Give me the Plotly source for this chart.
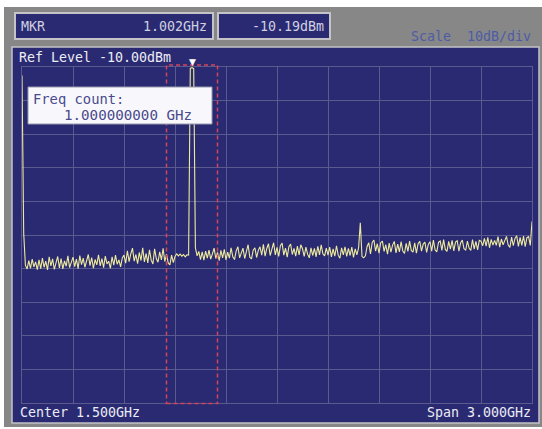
import plotly.graph_objects as go

START_GHZ = 0.0
STOP_GHZ = 3.0
REF_LEVEL_DBM = -10.0
DB_PER_DIV = 10.0
N_DIV = 10

header_labels = ["MKR", "1.002GHz", "-10.19dBm"]
scale_label = "Scale  10dB/div"
ref_label = "Ref Level -10.00dBm"
center_label = "Center 1.500GHz"
span_label = "Span 3.000GHz"
count_labels = ["Freq count:", "1.000000000 GHz"]

marker_freq_ghz = 1.002
window_ghz = [0.85, 1.15]

# trace amplitudes (dBm), 10 MHz sweep steps
lo_feedthrough = [-12.5, -59.5, -69.0]
noise_a = [-70.1, -67.6, -69.9, -67.2, -69.5, -68.0, -70.3]
noise_b = [-67.4, -70.0, -66.9, -69.6, -67.8, -70.4, -66.5, -69.2, -67.1, -70.2,
           -68.3, -66.4, -69.8, -67.0, -70.1, -67.7, -69.3, -66.2, -69.7, -67.9]
noise_c = [-66.6, -69.4, -67.2, -70.0, -66.1, -68.8, -66.9, -69.6, -67.5, -65.8,
           -69.1, -66.7, -69.9, -67.3, -68.9, -65.9, -69.2, -67.0, -69.7, -66.3,
           -68.6, -67.8, -69.9, -66.5, -69.0, -66.0, -68.7, -67.4, -69.5, -66.8]
noise_d = [-66.0, -68.4, -64.7, -67.9, -65.6, -63.9, -67.8, -65.8, -68.5, -65.2,
           -67.6, -63.8, -68.0, -65.5, -68.3, -64.4, -67.5, -68.6, -64.1, -67.0,
           -68.1, -65.0, -67.4, -64.0, -67.9, -65.7, -68.3, -68.9, -66.0, -68.2]
noise_e = [-66.4, -65.6, -66.2, -65.7, -66.3, -65.8, -66.5, -65.9, -66.0]
carrier = [-10.4, -10.19, -10.5]
noise_f = [-63.8, -66.2, -64.9, -67.3, -65.0, -67.5, -64.8, -66.9, -64.5, -67.2,
           -65.6, -63.9, -67.0, -65.2, -67.6, -64.6, -66.8, -64.3, -67.4, -65.1,
           -66.9, -63.8, -66.5, -67.3, -64.7, -63.5, -66.8, -65.0, -63.9, -67.0,
           -64.9, -62.9, -66.6, -67.1, -64.5, -63.8, -66.7, -64.6]
noise_g = [-63.5, -66.0, -62.8, -66.3, -64.0, -62.6, -66.1, -64.2, -62.3, -65.9,
           -63.7, -66.4, -63.2, -62.4, -66.0, -63.9, -66.6, -63.5, -62.7, -65.8,
           -64.0, -66.3, -63.3, -65.9, -62.9, -64.1, -66.4, -63.6, -65.7, -66.8,
           -63.8, -66.1, -64.0, -66.5, -63.4, -65.9, -62.9, -65.6, -66.2, -63.9]
noise_h = [-66.0, -63.6, -66.5, -64.1, -66.3, -63.2, -66.0, -66.9, -63.8, -65.9,
           -63.5, -66.4, -64.0, -66.1, -63.6, -66.7, -64.1, -65.9, -63.8]
harmonic = [-56.4]
noise_i = [-66.4, -66.8]
noise_j = [-66.2, -63.4, -62.3, -65.6, -62.2, -61.5, -64.8, -62.6, -65.4, -62.3,
           -61.8, -64.9, -62.9, -65.7, -62.4, -65.1, -63.0, -61.9, -65.3, -62.7,
           -65.0, -62.0, -64.8, -65.5, -62.5, -64.9, -61.8, -64.6, -65.1, -62.3,
           -65.4, -62.6, -61.9, -64.8, -62.7, -62.1, -65.2, -62.8]
noise_k = [-62.0, -64.8, -61.5, -64.4, -65.0, -62.2, -61.8, -64.6, -61.4, -64.3,
           -64.9, -61.9, -64.2, -61.6, -64.7, -62.1, -61.7, -64.8, -62.4, -61.5,
           -64.1, -64.5, -61.8, -63.9, -64.6, -61.4, -64.2, -61.9, -64.4, -61.6]
noise_l = [-61.8, -63.2, -61.0, -63.3, -60.7, -63.8, -61.3, -63.0, -61.6, -63.1,
           -60.5, -63.6, -61.2, -62.9, -61.5, -60.4, -63.0, -63.7, -60.6, -63.2,
           -61.0, -60.2, -63.4, -60.7, -63.1, -60.3, -63.5, -60.8, -60.5, -63.1]
end_point = [-56.0]

amplitude_dbm = (lo_feedthrough + noise_a + noise_b + noise_c + noise_d + noise_e
                 + carrier + noise_f + noise_g + noise_h + harmonic + noise_i
                 + noise_j + noise_k + noise_l + end_point)
n_pts = len(amplitude_dbm)
freq_ghz = [START_GHZ + i * (STOP_GHZ - START_GHZ) / (n_pts - 1) for i in range(n_pts)]

bottom_dbm = REF_LEVEL_DBM - N_DIV * DB_PER_DIV

# ---------------- styling / layout ----------------
W, H = 542, 429
ML, MR, MT, MB = 22, 10, 67, 26
PW, PH = W - ML - MR, H - MT - MB

def px(x):
    return (x - ML) / PW

def py(y):
    return (H - MB - y) / PH

NAVY = "#2a2a72"
GRAY = "#878787"
LIGHT = "#c4c4c8"
GRID = "#5a5a8e"
TRACE = "#eeea9c"
FONT = "DejaVu Sans Mono"

fig = go.Figure()
fig.add_trace(go.Scatter(x=freq_ghz, y=amplitude_dbm, mode="lines",
                         line=dict(color=TRACE, width=1.1), hoverinfo="skip",
                         showlegend=False, cliponaxis=False))

shapes = []
# outer gray instrument frame
shapes.append(dict(type="rect", xref="paper", yref="paper", layer="below",
                   x0=px(4), x1=px(542), y0=py(427), y1=py(7),
                   fillcolor=GRAY, line=dict(width=0)))
# main navy panel
shapes.append(dict(type="rect", xref="paper", yref="paper", layer="below",
                   x0=px(12), x1=px(539), y0=py(423), y1=py(47),
                   fillcolor=NAVY, line=dict(color=LIGHT, width=1.5)))
# header boxes
for x0, x1 in [(15, 213), (218, 330)]:
    shapes.append(dict(type="rect", xref="paper", yref="paper", layer="above",
                       x0=px(x0), x1=px(x1), y0=py(39), y1=py(13),
                       fillcolor=NAVY, line=dict(color=LIGHT, width=2)))
# red dashed frequency-count window
shapes.append(dict(type="rect", xref="x", yref="paper", layer="above",
                   x0=window_ghz[0], x1=window_ghz[1], y0=py(403.5), y1=py(65),
                   line=dict(color="#d4445a", width=1.5, dash="4px,3px"),
                   fillcolor="rgba(0,0,0,0)"))
# frequency count pop-up box
shapes.append(dict(type="rect", xref="paper", yref="paper", layer="above",
                   x0=px(28), x1=px(212), y0=py(124), y1=py(87),
                   fillcolor="#f8f8fc", line=dict(color="#9a9aae", width=1)))

def ann(text, x, y, anchor="left", color="#e8e8f0", size=13.3):
    return dict(text=text, xref="paper", yref="paper", x=px(x), y=py(y),
                xanchor=anchor, yanchor="middle", showarrow=False,
                font=dict(family=FONT, size=size, color=color))

annotations = [
    ann(header_labels[0], 19, 27, "left", "#cfd0e0"),
    ann(header_labels[1], 209, 27, "right", "#cfd0e0"),
    ann(header_labels[2], 326, 27, "right", "#cfd0e0"),
    ann(scale_label, 533, 36, "right", "#4d5ca6"),
    ann(ref_label, 17, 57, "left", "#ececf4"),
    ann(count_labels[0], 31, 99, "left", "#4a4a8c", 13.8),
    ann(count_labels[1], 62, 115, "left", "#4a4a8c", 14.2),
    ann(center_label, 18, 413, "left", "#ececf4"),
    ann(span_label, 533, 413, "right", "#ececf4"),
    # marker triangle above the top graticule at the marker frequency
    dict(text="\u25BC", xref="x", yref="paper", x=marker_freq_ghz, y=py(62),
         xanchor="center", yanchor="middle", showarrow=False,
         font=dict(family="DejaVu Sans", size=9, color="#ffffff")),
]

fig.update_layout(
    width=W, height=H,
    margin=dict(l=ML, r=MR, t=MT, b=MB, pad=0),
    paper_bgcolor="#ffffff",
    plot_bgcolor=NAVY,
    showlegend=False,
    shapes=shapes,
    annotations=annotations,
    xaxis=dict(range=[START_GHZ, STOP_GHZ], dtick=(STOP_GHZ - START_GHZ) / N_DIV,
               tick0=START_GHZ, showgrid=True, gridcolor=GRID, gridwidth=1,
               showticklabels=False, ticks="", zeroline=False,
               showline=True, linecolor=GRID, linewidth=1, mirror=True,
               fixedrange=True),
    yaxis=dict(range=[bottom_dbm, REF_LEVEL_DBM], dtick=DB_PER_DIV, tick0=bottom_dbm,
               showgrid=True, gridcolor=GRID, gridwidth=1,
               showticklabels=False, ticks="", zeroline=False,
               showline=True, linecolor=GRID, linewidth=1, mirror=True,
               fixedrange=True),
)

fig.write_html("out.html", config={"displayModeBar": False},
               post_script="document.body.style.margin='0';document.body.style.overflow='hidden';")
